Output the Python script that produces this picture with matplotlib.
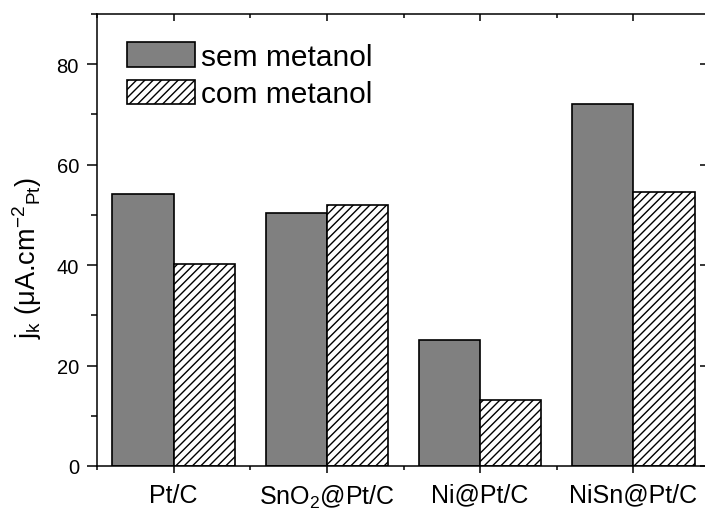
import matplotlib
matplotlib.use("Agg")
import matplotlib.pyplot as plt
import numpy as np
from matplotlib.ticker import MultipleLocator, FixedLocator

plt.rcParams['font.family'] = ['Liberation Sans', 'DejaVu Sans']
plt.rcParams['mathtext.fontset'] = 'custom'
plt.rcParams['mathtext.rm'] = 'Liberation Sans'
plt.rcParams['mathtext.it'] = 'Liberation Sans'
plt.rcParams['hatch.linewidth'] = 1.0

categories = ['Pt/C', r'SnO$_2$@Pt/C', 'Ni@Pt/C', 'NiSn@Pt/C']
sem_metanol = [54.2, 50.4, 25.1, 72.1]
com_metanol = [40.2, 52.0, 13.1, 54.6]
series_labels = ['sem metanol', 'com metanol']

fig = plt.figure(figsize=(7.05, 5.10), dpi=100)
ax_w = (710-97)/705
ax = fig.add_axes([97/705, 1-467/510, ax_w, (467-15)/510])

x = np.arange(1, len(categories)+1)
w = 0.40
ax.bar(x - w/2, sem_metanol, w, color='#808080', edgecolor='black', linewidth=1.2,
       label=series_labels[0], zorder=2)
ax.bar(x + w/2, com_metanol, w, color='white', edgecolor='black', linewidth=1.2,
       hatch='////', label=series_labels[1], zorder=2)

ax.set_xlim(0.5, len(categories)+0.5)
ax.set_ylim(0, 90)
ax.xaxis.set_major_locator(FixedLocator(x))
ax.xaxis.set_minor_locator(FixedLocator(np.arange(0.5, len(categories)+1, 1.0)))
ax.set_xticklabels(categories, fontsize=18)
ax.yaxis.set_major_locator(MultipleLocator(20))
ax.yaxis.set_minor_locator(MultipleLocator(10))
ax.tick_params(axis='y', labelsize=14.5)

for s in ax.spines.values():
    s.set_linewidth(1.1)

ax.tick_params(axis='x', which='major', direction='out', length=5, width=1.1, pad=7,
               top=True)
ax.tick_params(axis='x', which='minor', direction='out', length=3, width=1.1, top=True)
ax.tick_params(axis='y', which='major', direction='out', length=7, width=1.1, pad=6,
               right=True)
ax.tick_params(axis='y', which='minor', direction='out', length=4.5, width=1.1, right=False)
# top and right ticks point inward
for t in ax.xaxis.get_major_ticks() + ax.xaxis.get_minor_ticks():
    t.tick2line.set_marker(matplotlib.lines.TICKDOWN)
for t in ax.yaxis.get_major_ticks():
    t.tick2line.set_marker(matplotlib.lines.TICKLEFT)

ax.set_ylabel(r'j$_\mathrm{k}$ ($\mathrm{\mu}$A.cm$^{\mathrm{-2}}$$_\mathrm{Pt}$)', fontsize=19.5)
ax.yaxis.set_label_coords((44-97)/(710-97), 1 - (258-15)/452)

leg = ax.legend(loc='upper left', bbox_to_anchor=(127/705, 1-43/510),
                bbox_transform=fig.transFigure, frameon=False, fontsize=21.5,
                handlelength=2.27, handleheight=0.9, handletextpad=0.22,
                labelspacing=0.3, borderpad=0, borderaxespad=0)

fig.savefig('out.png', dpi=100)
